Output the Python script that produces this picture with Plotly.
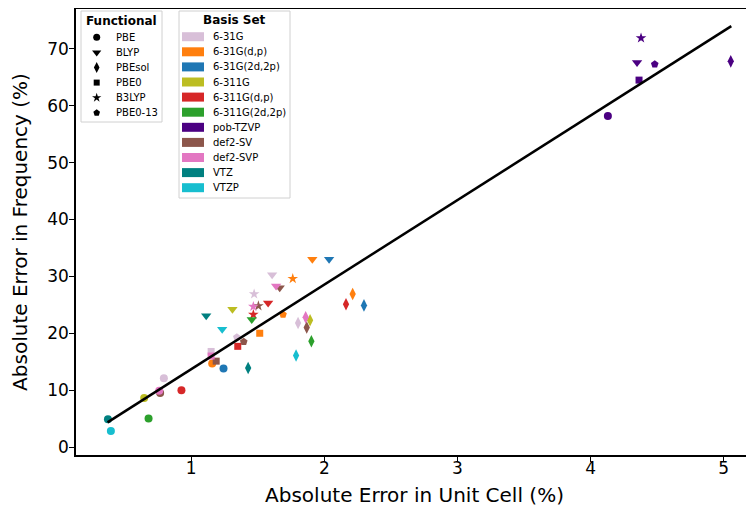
import plotly.graph_objects as go

# ---------------- data ----------------
functionals = ["PBE", "BLYP", "PBEsol", "PBE0", "B3LYP", "PBE0-13"]
functional_symbols = ["circle", "triangle-down", "diamond-tall", "square", "star", "pentagon"]

basis_sets = ["6-31G", "6-31G(d,p)", "6-31G(2d,2p)", "6-311G", "6-311G(d,p)",
              "6-311G(2d,2p)", "pob-TZVP", "def2-SV", "def2-SVP", "VTZ", "VTZP"]
basis_colors = ["#d8bfd8", "#ff7f0e", "#1f77b4", "#bcbd22", "#d62728",
                "#2ca02c", "#4b0082", "#8c564b", "#e377c2", "#008080", "#17becf"]

point_basis = (
    ["6-31G"] * 6 + ["6-31G(d,p)"] * 6 + ["6-31G(2d,2p)"] * 3 + ["6-311G"] * 3 +
    ["6-311G(d,p)"] * 5 + ["6-311G(2d,2p)"] * 3 + ["pob-TZVP"] * 6 + ["def2-SV"] * 6 +
    ["def2-SVP"] * 5 + ["VTZ"] * 3 + ["VTZP"] * 3
)
point_functional = [
    "PBE", "PBE0", "PBE0-13", "B3LYP", "BLYP", "PBEsol",
    "PBE", "PBE0", "PBE0-13", "B3LYP", "BLYP", "PBEsol",
    "PBE", "BLYP", "PBEsol",
    "PBE", "BLYP", "PBEsol",
    "PBE", "PBE0", "B3LYP", "BLYP", "PBEsol",
    "PBE", "BLYP", "PBEsol",
    "PBE", "BLYP", "PBEsol", "PBE0", "B3LYP", "PBE0-13",
    "PBE", "PBE0", "PBE0-13", "B3LYP", "BLYP", "PBEsol",
    "PBE", "PBE0", "B3LYP", "BLYP", "PBEsol",
    "PBE", "BLYP", "PBEsol",
    "PBE", "BLYP", "PBEsol",
]
unit_cell_err = [
    0.795, 1.150, 1.343, 1.473, 1.608, 1.803,
    1.158, 1.515, 1.690, 1.763, 1.910, 2.213,
    1.243, 2.036, 2.298,
    0.647, 1.310, 1.893,
    0.927, 1.350, 1.467, 1.578, 2.163,
    0.680, 1.455, 1.903,
    4.130, 4.349, 5.053, 4.364, 4.379, 4.482,
    0.767, 1.188, 1.395, 1.505, 1.665, 1.868,
    0.760, 1.150, 1.467, 1.638, 1.860,
    0.375, 1.113, 1.428,
    0.397, 1.233, 1.788,
]
freq_err = [
    12.1, 16.8, 19.3, 26.9, 30.3, 21.8,
    14.7, 20.0, 23.3, 29.6, 33.0, 26.9,
    13.8, 33.0, 24.9,
    8.6, 24.2, 22.3,
    10.0, 17.7, 23.3, 25.3, 25.1,
    5.0, 22.4, 18.6,
    58.2, 67.6, 67.8, 64.5, 71.9, 67.3,
    9.5, 15.1, 18.5, 24.8, 28.0, 21.0,
    9.9, 16.0, 24.7, 28.3, 22.8,
    4.9, 23.1, 13.9,
    2.8, 20.7, 16.1,
]

fit_x = [0.372, 5.057]
fit_y = [4.34, 74.0]

x_ticks = [1, 2, 3, 4, 5]
y_ticks = [0, 10, 20, 30, 40, 50, 60, 70]

# ---------------- styling / layout constants ----------------
FONT = "DejaVu Sans"
PAGE_OFFSET = 8                 # default body margin of the html page
W, H = 754 - PAGE_OFFSET, 515 - PAGE_OFFSET
# plot area in window pixels
SX0, SX1, SY0, SY1 = 76, 753, 9, 455
ML = SX0 - PAGE_OFFSET
MR = W - (SX1 - PAGE_OFFSET)
MT = SY0 - PAGE_OFFSET
MB = H - (SY1 - PAGE_OFFSET)

sym_map = dict(zip(functionals, functional_symbols))
size_map = {"circle": 8, "triangle-down": 9, "diamond-tall": 9, "square": 7,
            "star": 8, "pentagon": 8}

fig = go.Figure()

for b, c in zip(basis_sets, basis_colors):
    xs = [x for x, pb in zip(unit_cell_err, point_basis) if pb == b]
    ys = [y for y, pb in zip(freq_err, point_basis) if pb == b]
    fs = [f for f, pb in zip(point_functional, point_basis) if pb == b]
    fig.add_trace(go.Scatter(
        x=xs, y=ys, mode="markers", showlegend=False, hoverinfo="x+y+text",
        text=[f"{b} / {f}" for f in fs],
        marker=dict(color=c, symbol=[sym_map[f] for f in fs], opacity=1,
                    size=[size_map[sym_map[f]] for f in fs], line=dict(width=0)),
    ))

fig.add_trace(go.Scatter(x=fit_x, y=fit_y, mode="lines", showlegend=False,
                         line=dict(color="black", width=2.5), hoverinfo="skip"))

# ---------------- hand-built legends (window-pixel layout on an overlay axis) ----------------
shapes, annotations = [], []
ROW = 15.1
fbox = dict(x0=81, x1=162, y0=11, y1=122)
bbox = dict(x0=179, x1=290, y0=11, y1=198)
for box in (fbox, bbox):
    shapes.append(dict(type="rect", xref="x2", yref="y2", layer="below",
                       line=dict(color="#d0d0d0", width=1),
                       fillcolor="rgba(255,255,255,0.8)", **box))
annotations.append(dict(text="<b>Functional</b>", xref="x2", yref="y2",
                        x=(fbox["x0"] + fbox["x1"]) / 2, y=20.7, showarrow=False,
                        xanchor="center", yanchor="middle",
                        font=dict(family=FONT, size=12, color="black")))
annotations.append(dict(text="<b>Basis Set</b>", xref="x2", yref="y2",
                        x=(bbox["x0"] + bbox["x1"]) / 2, y=20.2, showarrow=False,
                        xanchor="center", yanchor="middle",
                        font=dict(family=FONT, size=12, color="black")))
f_rows = [37.3 + i * ROW for i in range(len(functionals))]
for f, yy in zip(functionals, f_rows):
    annotations.append(dict(text=f, xref="x2", yref="y2", x=114, y=yy, showarrow=False,
                            xanchor="left", yanchor="middle",
                            font=dict(family=FONT, size=10, color="black")))
fig.add_trace(go.Scatter(
    x=[96.7] * len(functionals), y=f_rows, xaxis="x2", yaxis="y2",
    mode="markers", showlegend=False, hoverinfo="skip",
    marker=dict(color="black", symbol=functional_symbols, opacity=1,
                size=[size_map[s] - 1 for s in functional_symbols], line=dict(width=0)),
))
b_rows = [36.7 + i * ROW for i in range(len(basis_sets))]
for b, c, yy in zip(basis_sets, basis_colors, b_rows):
    shapes.append(dict(type="rect", xref="x2", yref="y2", layer="below",
                       x0=182, x1=204, y0=yy - 4.5, y1=yy + 4.5,
                       fillcolor=c, line=dict(width=0)))
    annotations.append(dict(text=b, xref="x2", yref="y2", x=211, y=yy, showarrow=False,
                            xanchor="left", yanchor="middle",
                            font=dict(family=FONT, size=10, color="black")))

fig.update_layout(
    width=W, height=H,
    margin=dict(l=ML, r=MR, t=MT, b=MB, autoexpand=False),
    paper_bgcolor="white", plot_bgcolor="white",
    font=dict(family=FONT, color="black"),
    showlegend=False,
    shapes=shapes, annotations=annotations,
    xaxis=dict(
        range=[0.135, 5.22], tickvals=x_ticks, ticks="outside", ticklen=5,
        tickwidth=1.2, tickcolor="black", showgrid=False, zeroline=False,
        showline=True, linecolor="black", linewidth=1.5, mirror=True,
        tickfont=dict(family=FONT, size=17), automargin=False,
        ticklabelstandoff=-8,
        title=dict(text="Absolute Error in Unit Cell (%)",
                   font=dict(family=FONT, size=20), standoff=11),
    ),
    yaxis=dict(
        range=[-1.4, 77.0], tickvals=y_ticks, ticks="outside", ticklen=5,
        tickwidth=1.2, tickcolor="black", showgrid=False, zeroline=False,
        showline=True, linecolor="black", linewidth=1.5, mirror=True,
        tickfont=dict(family=FONT, size=17), automargin=False,
        ticklabelstandoff=-3,
        title=dict(text="Absolute Error in Frequency (%)",
                   font=dict(family=FONT, size=20), standoff=16),
    ),
    xaxis2=dict(domain=[0, 1], range=[SX0, SX1], overlaying="x", anchor="y2",
                visible=False, fixedrange=True),
    yaxis2=dict(domain=[0, 1], range=[SY1, SY0], overlaying="y", anchor="x2",
                visible=False, fixedrange=True),
)

fig.write_html("out.html")
